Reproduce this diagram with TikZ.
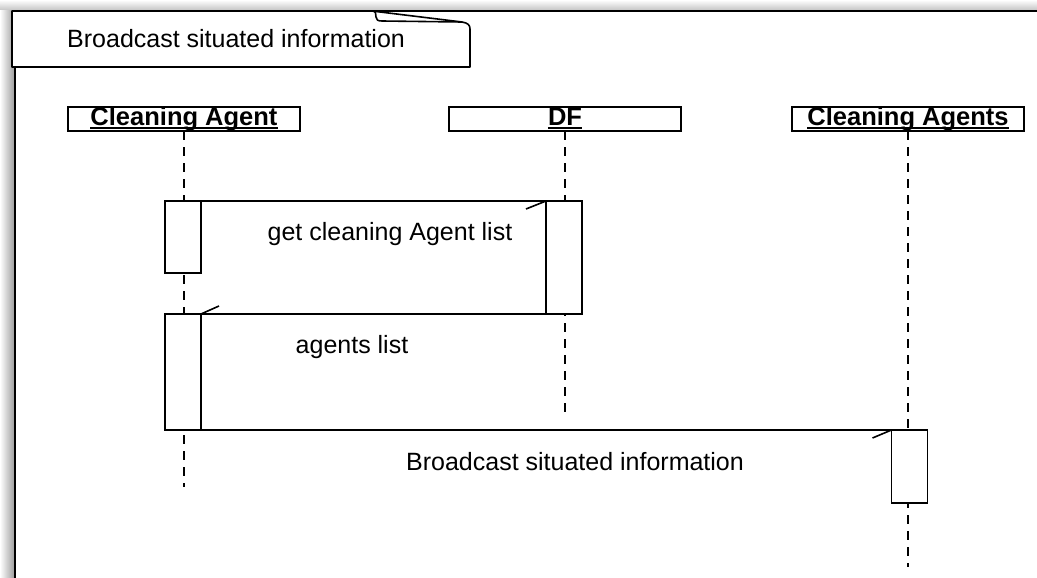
\documentclass[tikz,border=0pt]{standalone}
\usepackage{fontspec}
\setmainfont{Liberation Sans}
\begin{document}
\begin{tikzpicture}[x=1pt,y=-1pt,
  lbl/.style={font=\fontsize{25}{28}\selectfont, inner sep=0pt},
  head/.style={draw, line width=1.6pt, minimum width=232pt, minimum height=24pt, inner sep=0pt, outer sep=0pt},
  headtxt/.style={font=\fontsize{25.5}{28}\selectfont\bfseries, inner sep=0pt, anchor=base},
  uline/.style={line width=1.3pt},
  life/.style={line width=1.4pt, dash pattern=on 9pt off 7pt},
  act/.style={draw, fill=white, line width=1.6pt, minimum width=36pt, inner sep=0pt, outer sep=0pt},
  msg/.style={line width=1.6pt},
  frm/.style={line width=1.6pt, line join=round}]
\useasboundingbox (0,0) rectangle (1037,578);
% shadows
\shade[top color=white, bottom color=black!25] (0,0) rectangle (1037,11);
\shade[left color=white, right color=black!40] (0,11) rectangle (15,578);
% frame
\draw[frm] (12,11) -- (1037,11);
\draw[frm, line width=2.2pt] (15,67) -- (15,580);
% tab
\draw[frm, fill=white] (12,67) -- (12,11) -- (372,11) .. controls (376,11) and (376,14) .. (376,17)
  .. controls (376,20) and (378,21) .. (382,21) -- (462,22)
  .. controls (468,23) and (470,25) .. (470,29) -- (470,67) -- cycle;
\draw[frm] (372,11) -- (462,22);
\node[lbl, anchor=west] (title) at (67,39) {Broadcast situated information};
% heads
\node[head] (ca) at (184,119) {};
\node[head] (df) at (565,119) {};
\node[head] (cas) at (908,119) {};
\node[headtxt] (catxt) at (184,125) {Cleaning Agent};
\node[headtxt] (dftxt) at (565,125) {DF};
\node[headtxt] (castxt) at (908,125) {Cleaning Agents};
\draw[uline] ([yshift=-3pt]catxt.base west) -- ([yshift=-3pt]catxt.base east);
\draw[uline] ([yshift=-3pt]dftxt.base west) -- ([yshift=-3pt]dftxt.base east);
\draw[uline] ([yshift=-3pt]castxt.base west) -- ([yshift=-3pt]castxt.base east);
% lifelines
\coordinate (caend) at (184,487);
\coordinate (dfend) at (565,412);
\coordinate (casend) at (908,567);
\draw[life] (ca.south) -- (caend);
\draw[life] (df.south) -- (dfend);
\draw[life] (cas.south) -- (casend);
% activations
\node[act, minimum height=72pt] (a1) at (183,237) {};
\node[act, minimum height=113pt] (d1) at (564,257.5) {};
\node[act, minimum height=116pt] (a2) at (183,372) {};
\node[act, minimum height=73pt] (c1) at (909.5,466.5) {};
% messages
\draw[msg] (a1.north east) -- (d1.north west) -- ++(-20,8);
\node[lbl] (m1) at (390,234) {get cleaning Agent list};
\draw[msg] (d1.south west) -- (a2.north east) -- ++(18,-8);
\node[lbl] (m2) at (352,347) {agents list};
\draw[msg] (a2.south east) -- (c1.north west) -- ++(-19,8);
\node[lbl] (m3) at (575,462) {Broadcast situated information};
\end{tikzpicture}
\end{document}
